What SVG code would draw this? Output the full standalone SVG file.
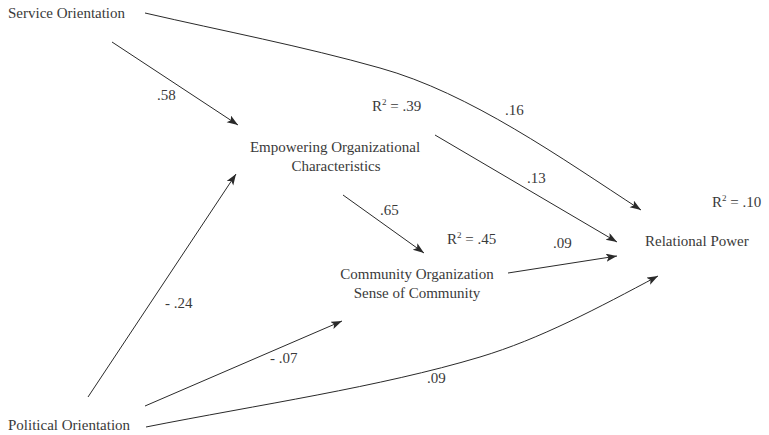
<svg xmlns="http://www.w3.org/2000/svg" width="769" height="435" viewBox="0 0 769 435">
<defs>
<style>
text{font-family:"Liberation Serif","Times New Roman",serif;font-size:15px;fill:#3a3a3a}
.sup{font-size:9px}
.edge{fill:none;stroke:#2a2a2a;stroke-width:1;marker-end:url(#arrow)}
</style>
<marker id="arrow" markerUnits="userSpaceOnUse" markerWidth="12" markerHeight="9" refX="11" refY="4" orient="auto">
<path d="M0,0 L11,4 L0,8 L2.5,4 Z" fill="#2a2a2a"/>
</marker>
</defs>
<rect width="769" height="435" fill="#ffffff"/>
<g id="connectors">
<path class="edge" d="M145,13 C223,31 302,46 380,68 C470,93 561,158 641,210"/>
<path class="edge" d="M112,42 L238,125"/>
<path class="edge" d="M88,397 L236,174"/>
<path class="edge" d="M145,406 L342,321"/>
<path class="edge" d="M343,195 L424,253"/>
<path class="edge" d="M435,135 L617,242"/>
<path class="edge" d="M508,273 L617,256"/>
<path class="edge" d="M146,427 C257,405 380,387 480,357 C540,339 598,308 658,276"/>
<text x="157" y="100">.58</text>
<text x="505" y="115">.16</text>
<text x="527" y="183">.13</text>
<text x="380" y="215">.65</text>
<text x="553" y="248">.09</text>
<text x="165" y="308">- .24</text>
<text x="270" y="363">- .07</text>
<text x="427" y="383">.09</text>
</g>
<g id="service-orientation">
<text x="8" y="18">Service Orientation</text>
</g>
<g id="political-orientation">
<text x="8" y="430">Political Orientation</text>
</g>
<g id="empowering">
<text x="335" y="152" text-anchor="middle">Empowering Organizational</text>
<text x="336" y="171" text-anchor="middle">Characteristics</text>
<text x="372" y="111">R<tspan class="sup" dy="-6">2</tspan><tspan dy="6"> = .39</tspan></text>
</g>
<g id="community">
<text x="417" y="279" text-anchor="middle">Community Organization</text>
<text x="417" y="298" text-anchor="middle">Sense of Community</text>
<text x="447" y="244">R<tspan class="sup" dy="-6">2</tspan><tspan dy="6"> = .45</tspan></text>
</g>
<g id="relational-power">
<text x="645" y="246">Relational Power</text>
<text x="712" y="207">R<tspan class="sup" dy="-6">2</tspan><tspan dy="6"> = .10</tspan></text>
</g>
</svg>
